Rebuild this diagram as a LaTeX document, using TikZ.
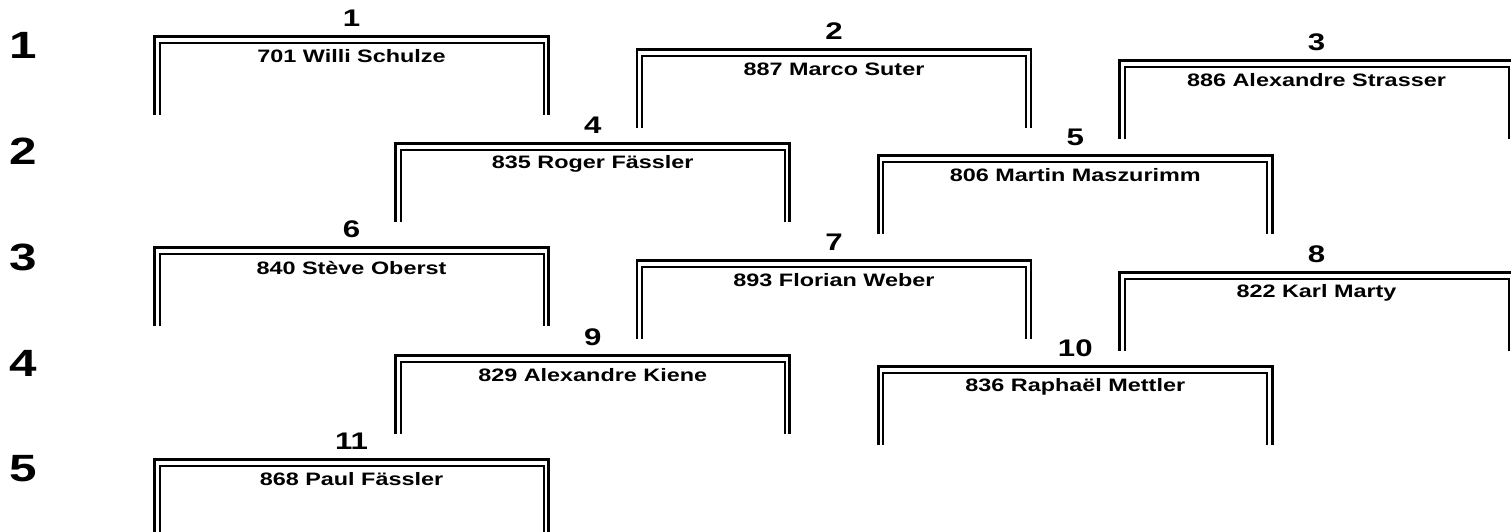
\documentclass[tikz,border=0pt]{standalone}
\usepackage{fontspec}
\setmainfont[FakeStretch=1.3]{Liberation Sans}
\begin{document}
\begin{tikzpicture}[x=1pt,y=-1pt,
    outer/.style={line width=2.8pt},
    inner/.style={line width=2pt},
    rowno/.style={font=\fontsize{38}{38}\selectfont\bfseries},
    seatno/.style={font=\fontsize{24}{24}\selectfont\bfseries},
    seatname/.style={font=\fontsize{18}{18}\selectfont\bfseries}]
  \useasboundingbox (0,0) rectangle (1511,531);
  \draw
    (23.5,45) node[rowno] (r1){1}
    (23.5,151) node[rowno] (r2){2}
    (23.5,257) node[rowno] (r3){3}
    (23.5,363) node[rowno] (r4){4}
    (23.5,469) node[rowno] (r5){5};
  \foreach \n/\x/\y/\who in {
      1/154.5/36.5/{701 Willi Schulze},
      2/637/49.5/{887 Marco Suter},
      3/1119.5/60.5/{886 Alexandre Strasser},
      4/395.75/143.5/{835 Roger Fässler},
      5/878.25/155.5/{806 Martin Maszurimm},
      6/154.5/247.5/{840 Stève Oberst},
      7/637/260.5/{893 Florian Weber},
      8/1119.5/272.5/{822 Karl Marty},
      9/395.75/355.5/{829 Alexandre Kiene},
      10/878.25/366.5/{836 Raphaël Mettler},
      11/154.5/459.5/{868 Paul Fässler}} {
    \draw[outer] (\x,\y+78) -- (\x,\y) -- (\x+394,\y) -- (\x+394,\y+78);
    \draw[inner] (\x+5,\y+78) -- (\x+5,\y+6) -- (\x+389,\y+6) -- (\x+389,\y+78);
    \node[seatno] (n\n) at (\x+197,\y-18) {\n};
    \node[seatname] (p\n) at (\x+197,\y+20) {\who};
  }
\end{tikzpicture}
\end{document}
